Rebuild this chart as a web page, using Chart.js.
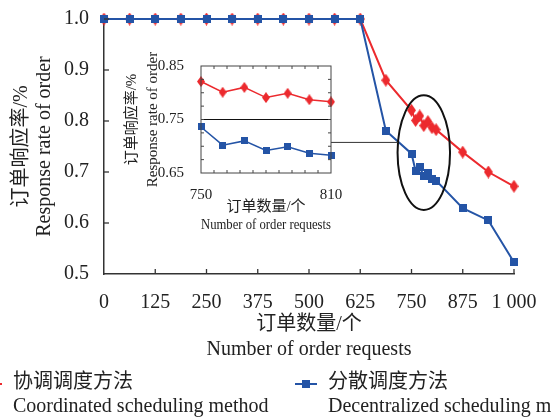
<!DOCTYPE html>
<html>
<head>
<meta charset="utf-8">
<script src="https://cdn.jsdelivr.net/npm/chart.js@4.4.1/dist/chart.umd.min.js"></script>
<style>
  html, body { margin: 0; padding: 0; background: #fff; }
  #wrap { position: relative; width: 551px; height: 418px; overflow: hidden; }
  #main { position: absolute; left: 0; top: 0; }
  #inset { position: absolute; left: 112px; top: 48px; }
</style>
</head>
<body>
<div id="wrap">
  <canvas id="main" width="551" height="418" style="width:551px;height:418px"></canvas>
  <canvas id="inset" width="240" height="192" style="width:240px;height:192px"></canvas>
</div>
<script>
const FONT = '"Liberation Serif", "Noto Sans CJK SC", serif';
const RED = '#ec2a2e';
const BLUE = '#2454a6';
const INK = '#222';

// data
const orderCounts = [0, 62.5, 125, 187.5, 250, 312.5, 375, 437.5, 500, 562.5, 625, 687.5,
  750, 760, 770, 780, 790, 800, 810, 875, 937.5, 1000];
const coordinatedRate = [1, 1, 1, 1, 1, 1, 1, 1, 1, 1, 1, 0.88,
  0.821, 0.801, 0.810, 0.791, 0.799, 0.787, 0.783, 0.739, 0.700, 0.672];
const decentralizedRate = [1, 1, 1, 1, 1, 1, 1, 1, 1, 1, 1, 0.781,
  0.736, 0.702, 0.710, 0.692, 0.699, 0.687, 0.683, 0.629, 0.605, 0.523];

const mainXTickLabels = ['0', '125', '250', '375', '500', '625', '750', '875', '1 000'];
const mainYTickLabels = ['0.5', '0.6', '0.7', '0.8', '0.9', '1.0'];
const insetXTickLabels = ['750', '', '', '', '', '', '810'];
const insetYTickLabels = ['0.65', '', '0.75', '', '0.85'];
const seriesNames = [
  ['协调调度方法', 'Coordinated scheduling method'],
  ['分散调度方法', 'Decentralized scheduling method']
];
const xTitle = ['订单数量/个', 'Number of order requests'];
const yTitle = ['订单响应率/%', 'Response rate of order'];

const zoomRange = [750, 810];
const zoomEllipse = { x: 780, y: 0.738, rx: 64, ry: 0.1125 };
const connectorY = 0.758;
const insetRefLine = 0.75;

function diamond(w, h, color) {
  const c = document.createElement('canvas');
  c.width = w; c.height = h;
  const g = c.getContext('2d');
  g.fillStyle = color;
  g.beginPath();
  g.moveTo(w / 2, 0); g.lineTo(w, h / 2); g.lineTo(w / 2, h); g.lineTo(0, h / 2);
  g.closePath(); g.fill();
  return c;
}
function square(s, color) {
  const c = document.createElement('canvas');
  c.width = s; c.height = s;
  const g = c.getContext('2d');
  g.fillStyle = color;
  g.fillRect(0, 0, s, s);
  return c;
}
function points(xs, ys, range) {
  return xs.map((x, i) => ({ x: x, y: ys[i] }))
    .filter(p => !range || (p.x >= range[0] && p.x <= range[1]));
}
function seg(ctx, x1, y1, x2, y2) {
  ctx.beginPath(); ctx.moveTo(x1, y1); ctx.lineTo(x2, y2); ctx.stroke();
}

// ---------- inset ----------
const insetDecor = {
  id: 'insetDecor',
  afterDraw(chart) {
    const { ctx, chartArea: a, scales: { x, y } } = chart;
    ctx.save();
    ctx.strokeStyle = '#444';
    ctx.lineWidth = 1;
    ctx.strokeRect(a.left, a.top, a.right - a.left, a.bottom - a.top);
    ctx.strokeStyle = '#111';
    const ry = y.getPixelForValue(insetRefLine);
    seg(ctx, a.left, ry, a.right, ry);
    ctx.strokeStyle = '#444';
    for (let v = x.min + 6; v < x.max - 0.01; v += 6) {
      const px = x.getPixelForValue(v);
      seg(ctx, px, a.bottom, px, a.bottom - 3);
      seg(ctx, px, a.top, px, a.top + 3);
    }
    for (let v = y.min + 0.025; v < y.max - 0.001; v += 0.025) {
      const py = y.getPixelForValue(v);
      seg(ctx, a.left, py, a.left + 3, py);
      seg(ctx, a.right, py, a.right - 3, py);
    }
    ctx.restore();
  }
};

const insetChart = new Chart(document.getElementById('inset'), {
  type: 'line',
  data: {
    datasets: [
      { data: points(orderCounts, decentralizedRate, zoomRange), borderColor: BLUE, backgroundColor: BLUE,
        borderWidth: 1.5, pointStyle: square(7, BLUE), pointRadius: 4, clip: false, order: 0 },
      { data: points(orderCounts, coordinatedRate, zoomRange), borderColor: RED, backgroundColor: RED,
        borderWidth: 1.5, pointStyle: diamond(8, 11, RED), pointRadius: 5, clip: false, order: 1 }
    ]
  },
  options: {
    responsive: false,
    animation: false,
    layout: { padding: { left: 0, top: 18, right: 21, bottom: 0 } },
    plugins: { legend: { display: false }, tooltip: { enabled: false } },
    scales: {
      x: {
        type: 'linear', min: zoomRange[0], max: zoomRange[1],
        grid: { display: false }, border: { display: false },
        ticks: { stepSize: 10, autoSkip: false, maxRotation: 0, padding: 5, color: INK,
          font: { family: FONT, size: 15 }, callback: (v, i) => insetXTickLabels[i] },
        title: { display: true, text: xTitle, color: INK,
          font: { family: FONT, size: 15, lineHeight: 1.2 }, padding: { top: 0, bottom: 6 } },
        afterFit: s => { s.height = 67; }
      },
      y: {
        min: 0.65, max: 0.85,
        grid: { display: false }, border: { display: false },
        ticks: { stepSize: 0.05, autoSkip: false, padding: 9, color: INK,
          font: { family: FONT, size: 15 }, callback: (v, i) => insetYTickLabels[i] },
        title: { display: true, text: yTitle, color: INK,
          font: { family: FONT, size: 15, lineHeight: 1.4 }, padding: { top: 9.5, bottom: 0 } },
        afterFit: s => { s.width = 89; }
      }
    }
  },
  plugins: [insetDecor]
});

// ---------- main ----------
const mainDecor = {
  id: 'mainDecor',
  afterDatasetsDraw(chart) {
    const { ctx, scales: { x, y } } = chart;
    ctx.save();
    ctx.strokeStyle = '#333';
    ctx.lineWidth = 1.3;
    x.ticks.forEach(t => {
      if (t.value === x.min) return;
      const px = x.getPixelForValue(t.value);
      seg(ctx, px, y.bottom, px, y.bottom - 5);
    });
    y.ticks.forEach(t => {
      if (t.value === y.min) return;
      const py = y.getPixelForValue(t.value);
      seg(ctx, x.left, py, x.left + 5, py);
    });

    // zoom ellipse and connector to the inset
    const cx = x.getPixelForValue(zoomEllipse.x);
    const cy = y.getPixelForValue(zoomEllipse.y);
    const rx = x.getPixelForValue(zoomEllipse.x + zoomEllipse.rx) - cx;
    const ry = cy - y.getPixelForValue(zoomEllipse.y + zoomEllipse.ry);
    ctx.strokeStyle = '#111';
    ctx.lineWidth = 2;
    ctx.beginPath();
    ctx.ellipse(cx, cy, rx, ry, 0, 0, Math.PI * 2);
    ctx.stroke();

    const py = y.getPixelForValue(connectorY);
    const ex = cx - rx * Math.sqrt(1 - Math.pow((py - cy) / ry, 2));
    const insetCanvas = document.getElementById('inset');
    const sx = insetCanvas.offsetLeft + insetChart.chartArea.right;
    ctx.strokeStyle = '#333';
    ctx.lineWidth = 1;
    seg(ctx, sx, py, ex, py);
    ctx.restore();
  },
  afterDraw(chart) {
    const { ctx } = chart;
    const items = [
      { ds: chart.data.datasets[1], lineX: [-20, 2], textX: 13 },
      { ds: chart.data.datasets[0], lineX: [295, 317], textX: 328 }
    ];
    const names = [seriesNames[0], seriesNames[1]];
    ctx.save();
    items.forEach((it, i) => {
      const ly = 384;
      ctx.strokeStyle = it.ds.borderColor;
      ctx.lineWidth = 2;
      seg(ctx, it.lineX[0], ly, it.lineX[1], ly);
      const st = it.ds.pointStyle;
      const mx = (it.lineX[0] + it.lineX[1]) / 2;
      ctx.drawImage(st, mx - st.width / 2, ly - st.height / 2);
      ctx.fillStyle = INK;
      ctx.font = '20px ' + FONT;
      ctx.textBaseline = 'middle';
      ctx.textAlign = 'left';
      ctx.fillText(names[i][0], it.textX, 383);
      ctx.fillText(names[i][1], it.textX, 407);
    });
    ctx.restore();
  }
};

new Chart(document.getElementById('main'), {
  type: 'line',
  data: {
    datasets: [
      { data: points(orderCounts, decentralizedRate), borderColor: BLUE, backgroundColor: BLUE,
        borderWidth: 2, pointStyle: square(8, BLUE), pointRadius: 5, clip: false, order: 0 },
      { data: points(orderCounts, coordinatedRate), borderColor: RED, backgroundColor: RED,
        borderWidth: 2, pointStyle: diamond(9, 13, RED), pointRadius: 6, clip: false, order: 1 }
    ]
  },
  options: {
    responsive: false,
    animation: false,
    layout: { padding: { left: 0, top: 18, right: 37, bottom: 54 } },
    plugins: { legend: { display: false }, tooltip: { enabled: false } },
    scales: {
      x: {
        type: 'linear', min: 0, max: 1000,
        grid: { display: false },
        border: { display: true, color: '#333', width: 1.5 },
        ticks: { stepSize: 125, autoSkip: false, maxRotation: 0, padding: 9, color: INK,
          font: { family: FONT, size: 20 }, callback: (v, i) => mainXTickLabels[i] },
        title: { display: true, text: xTitle, color: INK,
          font: { family: FONT, size: 20, lineHeight: 1.25 }, padding: { top: 0, bottom: 1.5 } },
        afterFit: s => { s.height = 90; }
      },
      y: {
        min: 0.5, max: 1.0,
        grid: { display: false },
        border: { display: true, color: '#333', width: 1.5 },
        ticks: { stepSize: 0.1, autoSkip: false, padding: 7, color: INK,
          font: { family: FONT, size: 20 }, callback: (v, i) => mainYTickLabels[i] },
        title: { display: true, text: yTitle, color: INK,
          font: { family: FONT, size: 20, lineHeight: 1.15 }, padding: { top: 10.5, bottom: 0 } },
        afterFit: s => { s.width = 104; }
      }
    }
  },
  plugins: [mainDecor]
});
</script>
</body>
</html>
